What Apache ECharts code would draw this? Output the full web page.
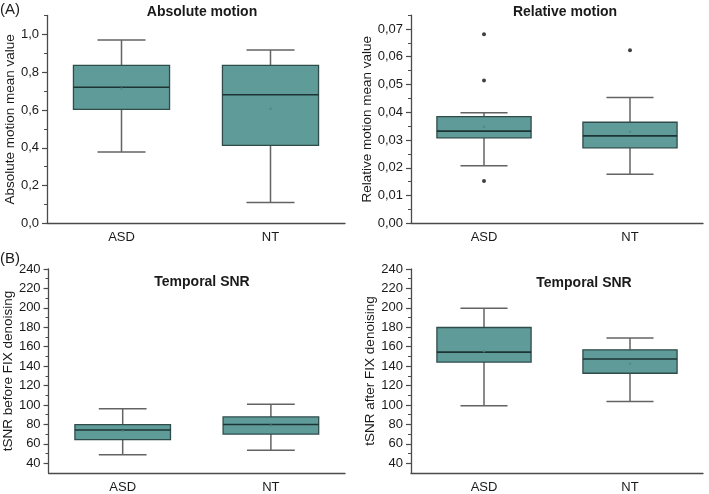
<!DOCTYPE html>
<html>
<head>
<meta charset="utf-8">
<script src="https://cdn.jsdelivr.net/npm/echarts@6/dist/echarts.min.js"></script>
<style>
html,body{margin:0;padding:0;background:#fff;}
#c{width:709px;height:494px;}
</style>
</head>
<body>
<div id="c"></div>
<script>
// ---------- data ----------
const categories = ['ASD', 'NT'];

// [low whisker, Q1, median, Q3, high whisker]
const absBox = [[0.377, 0.603, 0.720, 0.836, 0.970], [0.111, 0.413, 0.680, 0.836, 0.917]];
const absMean = [0.714, 0.606];

const relBox = [[0.0207, 0.0308, 0.0332, 0.0384, 0.0398], [0.0177, 0.0272, 0.0315, 0.0364, 0.0453]];
const relMean = [0.0348, 0.0330];
const relOutlierCat = [0, 0, 0, 1];
const relOutlierVal = [0.0681, 0.0514, 0.0152, 0.0623];

const snrBeforeBox = [[48.8, 64.4, 74.2, 79.9, 96.2], [53.5, 70.1, 79.9, 87.7, 100.9]];
const snrBeforeMean = [73.2, 79.0];

const snrAfterBox = [[99.2, 144.2, 154.4, 179.8, 199.5], [103.6, 132.7, 147.3, 156.8, 168.9]];
const snrAfterMean = [155.4, 142.5];

// tick labels
const absTicks = [0, 0.2, 0.4, 0.6, 0.8, 1.0];
const absMinor = [0.1, 0.3, 0.5, 0.7, 0.9, 1.1];
const relTicks = [0, 0.01, 0.02, 0.03, 0.04, 0.05, 0.06, 0.07];
const relMinor = [0.005, 0.015, 0.025, 0.035, 0.045, 0.055, 0.065, 0.075];
const snrTicks = [40, 60, 80, 100, 120, 140, 160, 180, 200, 220, 240];
const snrMinor = [50, 70, 90, 110, 130, 150, 170, 190, 210, 230];

// ---------- styles ----------
const AXIS_COLOR = '#4a4a4a';
const TEXT_COLOR = '#1a1a1a';
const FONT = 'Liberation Sans, Arial, sans-serif';

const grids = [
  {left: 47, top: 15.4, width: 298, height: 208},
  {left: 411, top: 15.1, width: 292, height: 208.2},
  {left: 47, top: 269, width: 298, height: 207},
  {left: 411, top: 269, width: 292, height: 207}
];

function fmt(dec) {
  return v => Number(v).toFixed(dec).replace('.', ',');
}

function xAxisFor(gi) {
  return {
    type: 'category', gridIndex: gi, data: categories, boundaryGap: true,
    axisLine: {lineStyle: {color: AXIS_COLOR, width: 1.3}},
    axisTick: {alignWithLabel: true, length: 5, lineStyle: {color: AXIS_COLOR, width: 1.2}},
    axisLabel: {color: TEXT_COLOR, fontSize: 13, fontFamily: FONT, margin: 8},
    splitLine: {show: false}
  };
}

function yAxesFor(gi, min, max, ticks, minor, dec, name, nameGap) {
  return [{
    type: 'value', gridIndex: gi, min: min, max: max,
    name: name, nameLocation: 'middle', nameGap: nameGap,
    nameTextStyle: {color: TEXT_COLOR, fontSize: 13.5, fontFamily: FONT},
    axisLine: {show: true, lineStyle: {color: AXIS_COLOR, width: 1.3}},
    axisTick: {show: true, length: 5, customValues: ticks, lineStyle: {color: AXIS_COLOR, width: 1.2}},
    axisLabel: {show: true, customValues: ticks, formatter: fmt(dec), color: TEXT_COLOR, fontSize: 13, fontFamily: FONT, margin: 8},
    splitLine: {show: false}
  }, {
    type: 'value', gridIndex: gi, min: min, max: max, position: 'left',
    axisLine: {show: false},
    axisTick: {show: true, length: 3, customValues: minor, lineStyle: {color: AXIS_COLOR, width: 1}},
    axisLabel: {show: false},
    splitLine: {show: false}
  }];
}

function renderBox(params, api) {
  const idx = api.value(0);
  const low = api.coord([idx, api.value(1)]);
  const q1 = api.coord([idx, api.value(2)]);
  const med = api.coord([idx, api.value(3)]);
  const q3 = api.coord([idx, api.value(4)]);
  const high = api.coord([idx, api.value(5)]);
  const band = api.size([1, 0])[0];
  const bw = band * 0.645;
  const cw = bw * 0.5;
  const x = low[0];
  const whisk = {stroke: '#636363', lineWidth: 1.5};
  return {
    type: 'group',
    children: [
      {type: 'line', shape: {x1: x, y1: q3[1], x2: x, y2: high[1]}, style: whisk},
      {type: 'line', shape: {x1: x, y1: q1[1], x2: x, y2: low[1]}, style: whisk},
      {type: 'line', shape: {x1: x - cw / 2, y1: high[1], x2: x + cw / 2, y2: high[1]}, style: whisk},
      {type: 'line', shape: {x1: x - cw / 2, y1: low[1], x2: x + cw / 2, y2: low[1]}, style: whisk},
      {type: 'rect', shape: {x: x - bw / 2, y: q3[1], width: bw, height: q1[1] - q3[1]},
        style: {fill: '#5f9b98', stroke: '#2f4c4a', lineWidth: 1.3}},
      {type: 'line', shape: {x1: x - bw / 2, y1: med[1], x2: x + bw / 2, y2: med[1]},
        style: {stroke: '#1c3534', lineWidth: 1.6}}
    ]
  };
}

function boxSeries(gi, box) {
  return {
    type: 'custom', xAxisIndex: gi, yAxisIndex: gi * 2,
    renderItem: renderBox,
    encode: {x: 0, y: [1, 2, 3, 4, 5]},
    data: box.map((b, i) => [i].concat(b)),
    silent: true, z: 2
  };
}

function meanSeries(gi, means) {
  return {
    type: 'scatter', xAxisIndex: gi, yAxisIndex: gi * 2,
    data: means.map((m, i) => [i, m]),
    symbol: 'circle', symbolSize: 2.5,
    itemStyle: {color: '#4c8784'}, silent: true, z: 3
  };
}

const option = {
  animation: false,
  backgroundColor: '#ffffff',
  grid: grids,
  xAxis: [xAxisFor(0), xAxisFor(1), xAxisFor(2), xAxisFor(3)],
  yAxis: [].concat(
    yAxesFor(0, 0, 1.1, absTicks, absMinor, 1, 'Absolute motion mean value', 30),
    yAxesFor(1, 0, 0.075, relTicks, relMinor, 2, 'Relative motion mean value', 35),
    yAxesFor(2, 30, 240, snrTicks, snrMinor, 0, 'tSNR before FIX denoising', 31),
    yAxesFor(3, 30, 240, snrTicks, snrMinor, 0, 'tSNR after FIX denoising', 31)
  ),
  title: [
    {text: 'Absolute motion', left: 197, top: 0, textAlign: 'center',
      textStyle: {fontSize: 14, fontWeight: 'bold', color: TEXT_COLOR, fontFamily: FONT}},
    {text: 'Relative motion', left: 560, top: 0, textAlign: 'center',
      textStyle: {fontSize: 14, fontWeight: 'bold', color: TEXT_COLOR, fontFamily: FONT}},
    {text: 'Temporal SNR', left: 197, top: 270, textAlign: 'center',
      textStyle: {fontSize: 14, fontWeight: 'bold', color: TEXT_COLOR, fontFamily: FONT}},
    {text: 'Temporal SNR', left: 579, top: 271, textAlign: 'center',
      textStyle: {fontSize: 14, fontWeight: 'bold', color: TEXT_COLOR, fontFamily: FONT}},
    {text: '(A)', left: -5, top: -3,
      textStyle: {fontSize: 15, fontWeight: 'normal', color: TEXT_COLOR, fontFamily: FONT}},
    {text: '(B)', left: -5, top: 246,
      textStyle: {fontSize: 15, fontWeight: 'normal', color: TEXT_COLOR, fontFamily: FONT}}
  ],
  series: [
    boxSeries(0, absBox), meanSeries(0, absMean),
    boxSeries(1, relBox), meanSeries(1, relMean),
    {
      type: 'scatter', xAxisIndex: 1, yAxisIndex: 2,
      data: relOutlierCat.map((c, i) => [c, relOutlierVal[i]]),
      symbol: 'circle', symbolSize: 4,
      itemStyle: {color: '#111'}, silent: true, z: 3
    },
    boxSeries(2, snrBeforeBox), meanSeries(2, snrBeforeMean),
    boxSeries(3, snrAfterBox), meanSeries(3, snrAfterMean)
  ]
};

const chart = echarts.init(document.getElementById('c'), null, {renderer: 'canvas'});
chart.setOption(option);
</script>
</body>
</html>
